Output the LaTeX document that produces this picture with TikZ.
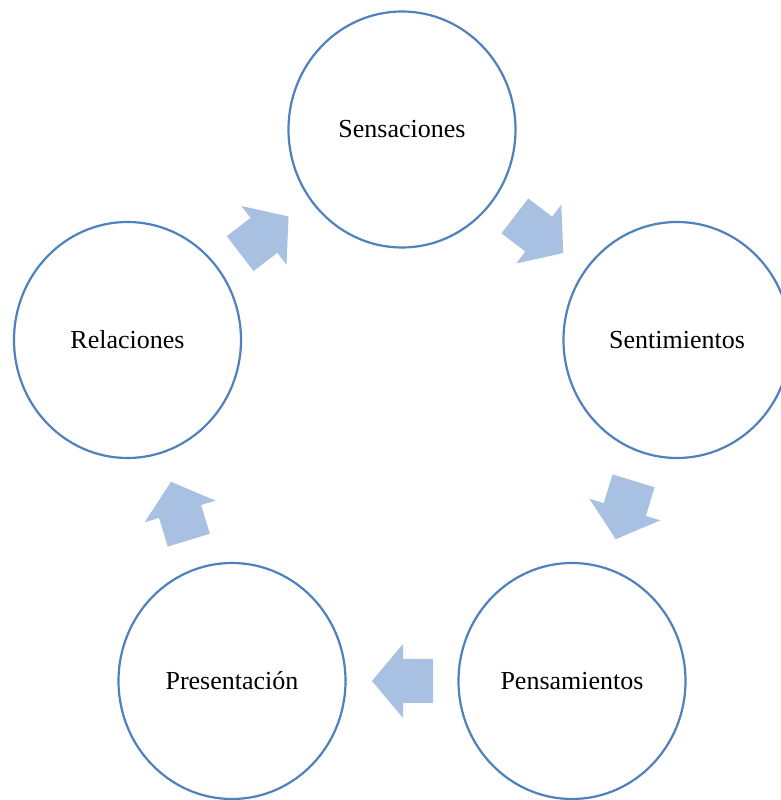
\documentclass[tikz,border=0pt]{standalone}
\usepackage{fontspec}
\setmainfont{Liberation Serif}
\usetikzlibrary{calc,shapes.geometric}
\definecolor{ringblue}{RGB}{79,129,189}
\definecolor{arrowblue}{RGB}{168,192,225}

\begin{document}
\begin{tikzpicture}[x=1pt, y=1pt,
    stage/.style={ellipse, draw=ringblue, line width=2.2pt, fill=white,
        minimum width=227pt, minimum height=236pt,
        font=\fontsize{26}{30}\selectfont},
    cyclearrow/.style={fill=arrowblue}]
    % Page frame
    \fill [white] (0,0) rectangle (780,800);
    \useasboundingbox (0,0) rectangle (780,800);

    % Draw stages
    \node [stage] (sen) at (402,670.5) {Sensaciones};
    \node [stage] (sent) at (677,460) {Sentimientos};
    \node [stage] (pen) at (572,119) {Pensamientos};
    \node [stage] (pre) at (232,119) {Presentación};
    \node [stage] (rel) at (127.5,460) {Relaciones};

    % Arrow centres
    \coordinate (a1) at ($(rel)!0.5!(sen)$);
    \coordinate (a2) at ($(sen)!0.5!(sent)$);
    \coordinate (a3) at ($(sent)!0.5!(pen)$);
    \coordinate (a4) at ($(pen)!0.5!(pre)$);
    \coordinate (a5) at ($(pre)!0.5!(rel)$);

    % Draw arrows
    \fill [cyclearrow, shift={(a1)}, rotate=37.5] (-31,-22) -- (-1,-22) -- (-1,-37) -- (30,0) -- (-1,37) -- (-1,22) -- (-31,22) -- cycle;
    \fill [cyclearrow, shift={(a2)}, rotate=-37.5] (-31,-22) -- (-1,-22) -- (-1,-37) -- (30,0) -- (-1,37) -- (-1,22) -- (-31,22) -- cycle;
    \fill [cyclearrow, shift={(a3)}, rotate=-107] (-31,-22) -- (-1,-22) -- (-1,-37) -- (30,0) -- (-1,37) -- (-1,22) -- (-31,22) -- cycle;
    \fill [cyclearrow, shift={(a4)}, rotate=180] (-31,-22) -- (-1,-22) -- (-1,-37) -- (30,0) -- (-1,37) -- (-1,22) -- (-31,22) -- cycle;
    \fill [cyclearrow, shift={(a5)}, rotate=107] (-31,-22) -- (-1,-22) -- (-1,-37) -- (30,0) -- (-1,37) -- (-1,22) -- (-31,22) -- cycle;
\end{tikzpicture}
\end{document}
